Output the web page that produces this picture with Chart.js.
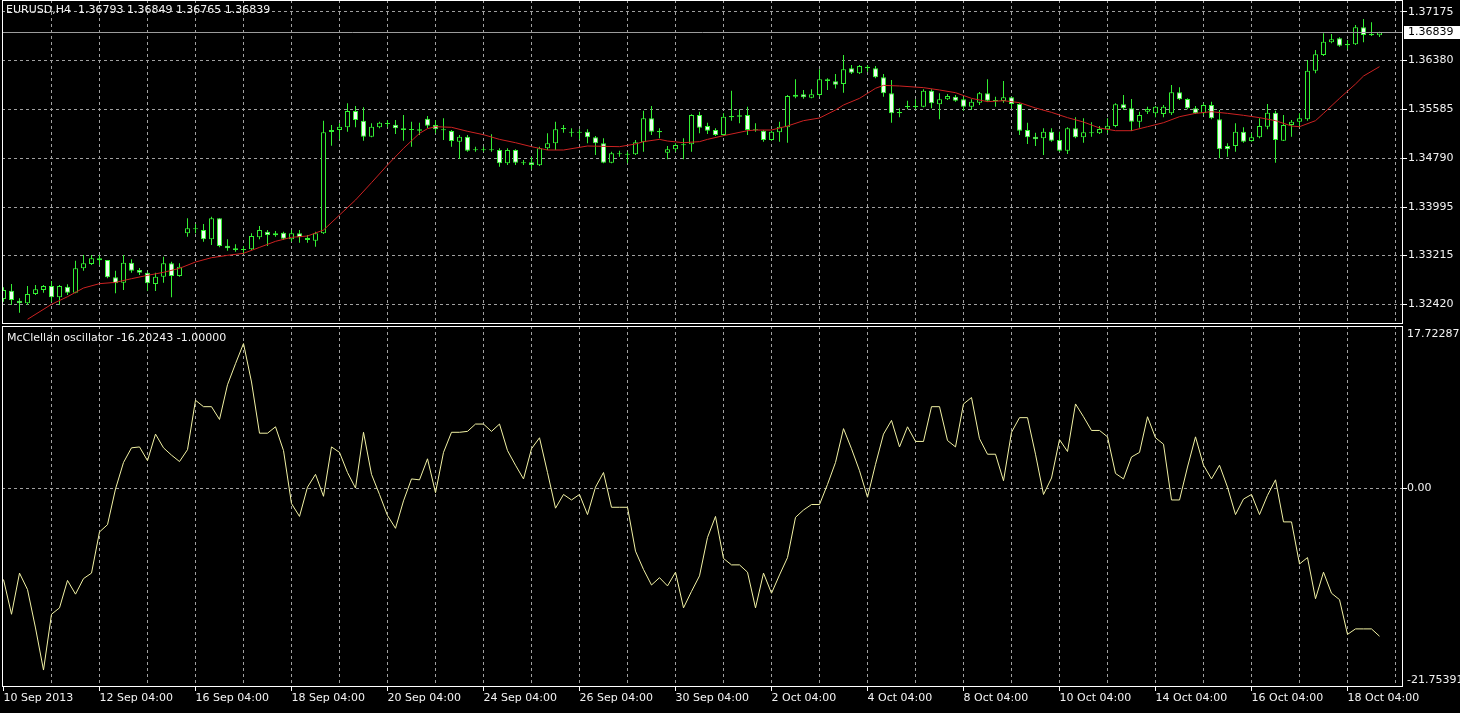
<!DOCTYPE html>
<html lang="en">
<head>
<meta charset="UTF-8">
<title>EURUSD H4 - McClellan oscillator</title>
<script src="https://cdn.jsdelivr.net/npm/chart.js@4"></script>
<style>
  html, body { margin: 0; padding: 0; background: #000; }
  #wrap { position: relative; width: 1460px; height: 713px; overflow: hidden; }
  canvas { position: absolute; left: 0; }
  #priceChart { top: 0; }
  #oscChart { top: 325px; }
</style>
</head>
<body>
<div id="wrap">
  <canvas id="priceChart" width="1460" height="325"></canvas>
  <canvas id="oscChart" width="1460" height="388"></canvas>
</div>
<script>
// ---- data (one value per H4 bar) ----
const symbol = 'EURUSD,H4';

const open = [
  1.32503, 1.32639, 1.32476, 1.32433, 1.32585, 1.32650, 1.32715, 1.32530, 1.32704, 1.32606,
  1.33002, 1.33072, 1.33165, 1.33137, 1.32856, 1.32769, 1.33094, 1.32975, 1.32931, 1.32747,
  1.32866, 1.33083, 1.32877, 1.33571, 1.33647, 1.33625, 1.33473, 1.33815, 1.33370, 1.33327,
  1.33311, 1.33311, 1.33506, 1.33598, 1.33571, 1.33582, 1.33473, 1.33571, 1.33495, 1.33452,
  1.33571, 1.35219, 1.35251, 1.35295, 1.35560, 1.35403, 1.35143, 1.35295, 1.35349, 1.35338,
  1.35278, 1.35262, 1.35262, 1.35435, 1.35333, 1.35262, 1.35235, 1.35062, 1.35143, 1.34937,
  1.34937, 1.34937, 1.34926, 1.34709, 1.34926, 1.34720, 1.34725, 1.34677, 1.34953, 1.35034,
  1.35262, 1.35208, 1.35224, 1.35224, 1.35132, 1.35034, 1.34720, 1.34872, 1.34861, 1.34856,
  1.35051, 1.35441, 1.35235, 1.34883, 1.34937, 1.35002, 1.35018, 1.35495, 1.35316, 1.35251,
  1.35170, 1.35457, 1.35468, 1.35495, 1.35262, 1.35240, 1.35089, 1.35213, 1.35295, 1.35793,
  1.35831, 1.35777, 1.35820, 1.36075, 1.36043, 1.35999, 1.36254, 1.36173, 1.36281, 1.36254,
  1.36108, 1.35847, 1.35544, 1.35625, 1.35625, 1.35631, 1.35891, 1.35669, 1.35750, 1.35793,
  1.35750, 1.35631, 1.35696, 1.35847, 1.35739, 1.35723, 1.35782, 1.35674, 1.35251, 1.35143,
  1.35116, 1.35224, 1.35089, 1.34915, 1.35278, 1.35132, 1.35197, 1.35197, 1.35262, 1.35316,
  1.35669, 1.35603, 1.35387, 1.35549, 1.35522, 1.35511, 1.35522, 1.35864, 1.35755, 1.35603,
  1.35522, 1.35658, 1.35425, 1.34991, 1.34991, 1.35224, 1.35072, 1.35132, 1.35305, 1.35533,
  1.35078, 1.35333, 1.35387, 1.35425, 1.36216, 1.36471, 1.36677, 1.36742, 1.36628, 1.36644,
  1.36921, 1.36812, 1.36793
];
const high = [
  1.32693, 1.32747, 1.32514, 1.32715, 1.32731, 1.32731, 1.32796, 1.32731, 1.32742, 1.33127,
  1.33219, 1.33219, 1.33219, 1.33137, 1.32964, 1.33219, 1.33148, 1.33007, 1.32948, 1.32931,
  1.33192, 1.33110, 1.33083, 1.33815, 1.33723, 1.33723, 1.33842, 1.33815, 1.33473, 1.33392,
  1.33365, 1.33571, 1.33690, 1.33625, 1.33609, 1.33598, 1.33625, 1.33625, 1.33544, 1.33598,
  1.35403, 1.35333, 1.35360, 1.35685, 1.35641, 1.35620, 1.35360, 1.35387, 1.35414, 1.35414,
  1.35495, 1.35387, 1.35371, 1.35479, 1.35414, 1.35441, 1.35251, 1.35170, 1.35170, 1.34980,
  1.34980, 1.35181, 1.34953, 1.34953, 1.34937, 1.34763, 1.34818, 1.34980, 1.35197, 1.35387,
  1.35333, 1.35278, 1.35262, 1.35262, 1.35154, 1.35116, 1.34899, 1.34915, 1.34899, 1.35089,
  1.35566, 1.35641, 1.35278, 1.34991, 1.35034, 1.35116, 1.35506, 1.35549, 1.35371, 1.35278,
  1.35522, 1.35891, 1.35587, 1.35631, 1.35360, 1.35251, 1.35240, 1.35387, 1.35820, 1.36075,
  1.35902, 1.35912, 1.36238, 1.36091, 1.36162, 1.36471, 1.36308, 1.36308, 1.36308, 1.36292,
  1.36162, 1.36064, 1.35603, 1.35728, 1.35750, 1.35912, 1.35912, 1.35847, 1.35837, 1.35820,
  1.35793, 1.35750, 1.35869, 1.36075, 1.35793, 1.36048, 1.35793, 1.35685, 1.35371, 1.35208,
  1.35278, 1.35278, 1.35224, 1.35295, 1.35457, 1.35441, 1.35376, 1.35316, 1.35441, 1.35685,
  1.35820, 1.35755, 1.35549, 1.35631, 1.35641, 1.35658, 1.35983, 1.35945, 1.35766, 1.35641,
  1.35685, 1.35712, 1.35576, 1.35034, 1.35360, 1.35295, 1.35197, 1.35441, 1.35674, 1.35566,
  1.35495, 1.35414, 1.35522, 1.36389, 1.36552, 1.36823, 1.36812, 1.36758, 1.36715, 1.36959,
  1.37056, 1.37002, 1.36849
];
const low = [
  1.32460, 1.32406, 1.32281, 1.32406, 1.32568, 1.32606, 1.32460, 1.32406, 1.32568, 1.32595,
  1.32964, 1.33056, 1.33056, 1.32839, 1.32595, 1.32650, 1.32931, 1.32894, 1.32639, 1.32633,
  1.32769, 1.32530, 1.32866, 1.33517, 1.33571, 1.33436, 1.33381, 1.33343, 1.33289, 1.33273,
  1.33235, 1.33300, 1.33473, 1.33365, 1.33517, 1.33463, 1.33436, 1.33419, 1.33419, 1.33354,
  1.33560, 1.34996, 1.35099, 1.35224, 1.35295, 1.35078, 1.35132, 1.35278, 1.35295, 1.35186,
  1.35078, 1.34980, 1.35170, 1.35278, 1.35197, 1.35089, 1.34980, 1.34780, 1.34899, 1.34899,
  1.34899, 1.34899, 1.34655, 1.34682, 1.34682, 1.34682, 1.34612, 1.34666, 1.34926, 1.34926,
  1.35208, 1.35143, 1.35099, 1.35034, 1.34845, 1.34709, 1.34709, 1.34818, 1.34709, 1.34845,
  1.34899, 1.35170, 1.35116, 1.34774, 1.34899, 1.34774, 1.34899, 1.35197, 1.35186, 1.35154,
  1.35159, 1.35403, 1.35360, 1.35170, 1.35224, 1.35062, 1.35078, 1.35062, 1.35045, 1.35766,
  1.35760, 1.35766, 1.35793, 1.35902, 1.35928, 1.35858, 1.36162, 1.36162, 1.36200, 1.36091,
  1.35793, 1.35371, 1.35457, 1.35587, 1.35587, 1.35620, 1.35603, 1.35425, 1.35739, 1.35712,
  1.35566, 1.35576, 1.35658, 1.35712, 1.35631, 1.35696, 1.35603, 1.35170, 1.35024, 1.34991,
  1.34845, 1.35062, 1.34899, 1.34861, 1.35116, 1.35045, 1.35143, 1.35186, 1.35197, 1.35295,
  1.35576, 1.35235, 1.35289, 1.35511, 1.35457, 1.35457, 1.35495, 1.35739, 1.35587, 1.35511,
  1.35495, 1.35425, 1.34791, 1.34818, 1.34899, 1.35045, 1.35062, 1.35116, 1.35262, 1.34720,
  1.35072, 1.35143, 1.35295, 1.35403, 1.36173, 1.36454, 1.36660, 1.36606, 1.36563, 1.36633,
  1.36677, 1.36780, 1.36765
];
const close = [
  1.32650, 1.32487, 1.32433, 1.32585, 1.32660, 1.32715, 1.32530, 1.32715, 1.32606, 1.33002,
  1.33083, 1.33165, 1.33132, 1.32856, 1.32758, 1.33094, 1.32964, 1.32931, 1.32758, 1.32866,
  1.33083, 1.32877, 1.33029, 1.33652, 1.33636, 1.33473, 1.33815, 1.33365, 1.33327, 1.33300,
  1.33300, 1.33528, 1.33625, 1.33544, 1.33538, 1.33484, 1.33571, 1.33506, 1.33463, 1.33571,
  1.35213, 1.35251, 1.35305, 1.35560, 1.35414, 1.35143, 1.35305, 1.35371, 1.35360, 1.35278,
  1.35251, 1.35251, 1.35240, 1.35322, 1.35262, 1.35246, 1.35072, 1.35143, 1.34915, 1.34921,
  1.34921, 1.34921, 1.34709, 1.34926, 1.34720, 1.34709, 1.34682, 1.34953, 1.35034, 1.35262,
  1.35284, 1.35224, 1.35208, 1.35132, 1.35034, 1.34720, 1.34872, 1.34856, 1.34850, 1.35051,
  1.35441, 1.35224, 1.35213, 1.34937, 1.35007, 1.35018, 1.35495, 1.35289, 1.35240, 1.35170,
  1.35468, 1.35479, 1.35490, 1.35251, 1.35246, 1.35089, 1.35224, 1.35305, 1.35804, 1.35826,
  1.35782, 1.35831, 1.36075, 1.36048, 1.35988, 1.36238, 1.36184, 1.36292, 1.36254, 1.36108,
  1.35847, 1.35522, 1.35522, 1.35641, 1.35641, 1.35891, 1.35685, 1.35750, 1.35804, 1.35728,
  1.35631, 1.35712, 1.35847, 1.35728, 1.35723, 1.35782, 1.35674, 1.35240, 1.35132, 1.35099,
  1.35224, 1.35078, 1.34915, 1.35278, 1.35132, 1.35213, 1.35213, 1.35267, 1.35322, 1.35669,
  1.35603, 1.35387, 1.35495, 1.35593, 1.35631, 1.35631, 1.35864, 1.35750, 1.35603, 1.35522,
  1.35658, 1.35441, 1.34937, 1.34937, 1.35224, 1.35062, 1.35132, 1.35316, 1.35533, 1.35089,
  1.35333, 1.35387, 1.35441, 1.36216, 1.36482, 1.36688, 1.36725, 1.36622, 1.36649, 1.36921,
  1.36796, 1.36790, 1.36839
];

// moving average (red), sampled along the line
const maBars = [3, 6, 8, 10, 12, 14, 16, 18, 20, 22, 24, 26, 28, 30, 32, 34, 36, 38, 40, 42,
  44, 46, 48, 50, 52, 53, 54, 56, 58, 60, 62, 64, 66, 68, 70, 73, 77, 79, 80, 82,
  83, 85, 87, 88, 90, 93, 94, 96, 98, 100, 102, 104, 105, 107, 108, 109, 110, 112, 115, 117,
  119, 121, 123, 125, 127, 129, 131, 133, 135, 137, 139, 141, 143, 145, 147, 149, 151, 153, 155, 157,
  159, 161, 162, 164, 165, 167, 169, 170, 172];
const maValues = [1.32173, 1.32417, 1.32541, 1.32682, 1.32753, 1.32774, 1.32834, 1.32888, 1.32937, 1.33002,
  1.33105, 1.33175, 1.33213, 1.33246, 1.33343, 1.33441, 1.33506, 1.33528, 1.33625, 1.33869,
  1.34113, 1.34395, 1.34682, 1.34953, 1.35197, 1.35273, 1.35305, 1.35295, 1.35230, 1.35175,
  1.35099, 1.35045, 1.34980, 1.34926, 1.34926, 1.34991, 1.34980, 1.35024, 1.35062, 1.35099,
  1.35072, 1.35045, 1.35062, 1.35099, 1.35159, 1.35240, 1.35251, 1.35251, 1.35316, 1.35403,
  1.35446, 1.35576, 1.35658, 1.35766, 1.35847, 1.35929, 1.35977, 1.35967, 1.35940, 1.35902,
  1.35858, 1.35766, 1.35712, 1.35728, 1.35696, 1.35609, 1.35538, 1.35452, 1.35381, 1.35284,
  1.35240, 1.35240, 1.35305, 1.35370, 1.35468, 1.35522, 1.35549, 1.35522, 1.35490, 1.35452,
  1.35403, 1.35316, 1.35305, 1.35403, 1.35522, 1.35766, 1.35999, 1.36129, 1.36281];

// McClellan oscillator, one value per bar
const oscTitle = 'McClellan oscillator';
const oscSignal = -1.0;
const osc = [
  -10.0, -13.8, -9.3, -11.1, -15.3, -19.9, -13.8, -13.1, -10.1, -11.6,
  -9.9, -9.3, -4.8, -4.0, -0.1, 2.8, 4.4, 4.5, 3.0, 5.9,
  4.4, 3.6, 2.9, 4.2, 9.6, 8.9, 8.9, 7.5, 11.3, 13.6,
  15.8, 11.6, 6.0, 6.0, 6.7, 4.1, -1.7, -3.1, 0.1, 1.5,
  -0.9, 4.5, 3.9, 1.7, 0.0, 6.1, 1.5, -0.7, -3.0, -4.4,
  -1.4, 1.0, 0.9, 3.2, -0.5, 3.9, 6.1, 6.1, 6.2, 7.0,
  7.0, 6.2, 7.0, 4.1, 2.5, 1.0, 4.3, 5.5, 1.7, -2.2,
  -0.7, -1.3, -0.7, -2.9, 0.1, 1.7, -2.1, -2.1, -2.1, -6.9,
  -8.9, -10.6, -9.8, -10.7, -9.2, -13.1, -11.3, -9.6, -5.4, -3.1,
  -7.7, -8.4, -8.4, -9.2, -13.1, -9.3, -11.5, -9.5, -7.6, -3.2,
  -2.4, -1.8, -1.8, 0.4, 2.8, 6.5, 4.3, 1.9, -1.0, 2.6,
  5.9, 7.4, 4.5, 6.7, 5.1, 5.1, 8.9, 8.9, 5.2, 4.5,
  9.2, 9.9, 5.4, 3.7, 3.7, 0.8, 6.1, 7.7, 7.7, 3.7,
  -0.7, 1.1, 5.3, 4.0, 9.2, 7.8, 6.3, 6.3, 5.6, 1.6,
  1.0, 3.4, 3.9, 7.8, 5.5, 4.8, -1.3, -1.3, 2.3, 5.6,
  2.5, 1.0, 2.5, 0.1, -2.9, -1.2, -0.7, -2.9, -0.8, 0.9,
  -3.7, -3.7, -8.3, -7.6, -12.1, -9.2, -11.5, -12.2, -16.0, -15.4,
  -15.4, -15.4, -16.20243
];

// axis labels
const priceTicks = [1.37175, 1.36380, 1.35585, 1.34790, 1.33995, 1.33215, 1.32420];
const oscTicks = [17.72287, 0, -21.75391];
const timeLabels = ['10 Sep 2013', '12 Sep 04:00', '16 Sep 04:00', '18 Sep 04:00', '20 Sep 04:00',
  '24 Sep 04:00', '26 Sep 04:00', '30 Sep 04:00', '2 Oct 04:00', '4 Oct 04:00',
  '8 Oct 04:00', '10 Oct 04:00', '14 Oct 04:00', '16 Oct 04:00', '18 Oct 04:00'];
const labelEvery = 12;   // bars between time labels
const gridEvery = 6;     // bars between vertical grid lines

// ---- look ----
const FONT_FAMILY = '"DejaVu Sans", sans-serif';
const FONT = '11px ' + FONT_FAMILY;
const TEXT = '#f2f2f2';
const GRID = '#a0a0a0';
const GREEN = '#33ee33';
const BEAR_FILL = '#f0fff0';
const BULL_FILL = '#000000';
const MA_RED = '#cc2222';
const OSC_YELLOW = '#f2f2a4';
const AXIS_W = 57;

const xMin = -0.1875, xMax = 174.9375;   // 8px per bar, right margin of ~3 bars
const priceMin = 1.32097, priceMax = 1.37365;

const bars = close.map((_, i) => i);
const last = close.length - 1;
const gridBars = [];
for (let b = 0; b <= xMax; b += gridEvery) gridBars.push(b);

Chart.defaults.font.family = FONT_FAMILY;
Chart.defaults.font.size = 11;
Chart.defaults.color = TEXT;

function drawFrame(ctx, a) {
  ctx.save();
  ctx.strokeStyle = '#ffffff';
  ctx.lineWidth = 1;
  ctx.strokeRect(a.left + 0.5, a.top + 0.5, a.right - a.left - 1, a.bottom - a.top - 1);
  ctx.restore();
}

const priceOverlay = {
  id: 'priceOverlay',
  afterDatasetsDraw(chart) {
    // bid line at the last close
    const ctx = chart.ctx, a = chart.chartArea;
    const y = Math.round(chart.scales.y.getPixelForValue(close[last])) + 0.5;
    ctx.save();
    ctx.strokeStyle = '#9c9c9c';
    ctx.lineWidth = 1;
    ctx.beginPath();
    ctx.moveTo(a.left, y);
    ctx.lineTo(a.right, y);
    ctx.stroke();
    ctx.restore();
  },
  afterDraw(chart) {
    const ctx = chart.ctx, a = chart.chartArea;
    drawFrame(ctx, a);
    const y = Math.round(chart.scales.y.getPixelForValue(close[last]));
    ctx.save();
    ctx.fillStyle = '#ffffff';
    ctx.fillRect(a.right + 1, y - 6, chart.width - a.right - 1, 13);
    ctx.fillStyle = '#000000';
    ctx.font = FONT;
    ctx.textBaseline = 'middle';
    ctx.fillText(close[last].toFixed(5), a.right + 5, y + 0.5);
    ctx.fillStyle = TEXT;
    const head = symbol + '  ' + [open[last], high[last], low[last], close[last]].map(v => v.toFixed(5)).join(' ');
    ctx.fillText(head, 6, 10);
    ctx.restore();
  }
};

const oscOverlay = {
  id: 'oscOverlay',
  afterDraw(chart) {
    const ctx = chart.ctx, a = chart.chartArea, ys = chart.scales.y;
    drawFrame(ctx, a);
    ctx.save();
    ctx.font = FONT;
    ctx.fillStyle = TEXT;
    ctx.textBaseline = 'middle';
    ctx.fillText(oscTitle + ' ' + osc[last].toFixed(5) + ' ' + oscSignal.toFixed(5), 7, 13);
    // MT4 puts the window max at the top edge and the min at the bottom edge
    oscTicks.forEach(v => {
      const txt = v === 0 ? v.toFixed(2) : v.toFixed(5);
      let y = ys.getPixelForValue(v);
      if (v === ys.max) { ctx.textBaseline = 'top'; y += 3; }
      else if (v === ys.min) { ctx.textBaseline = 'bottom'; y -= 1; }
      else ctx.textBaseline = 'middle';
      ctx.fillText(txt, a.right + 4, y);
    });
    ctx.restore();
  }
};

const xGridColor = c => (c.tick && c.tick.value === 0) ? 'rgba(0,0,0,0)' : GRID;

new Chart(document.getElementById('priceChart'), {
  type: 'bar',
  data: {
    datasets: [
      {
        label: 'wick',
        data: bars.map(i => ({ x: i, y: [low[i], high[i]] })),
        backgroundColor: GREEN,
        barThickness: 1,
        inflateAmount: 0,
        grouped: false,
        order: 3
      },
      {
        label: 'body',
        data: bars.map(i => ({ x: i, y: [open[i], close[i]] })),
        backgroundColor: bars.map(i => close[i] >= open[i] ? BULL_FILL : BEAR_FILL),
        borderColor: GREEN,
        borderWidth: 1,
        borderSkipped: false,
        barThickness: 5,
        minBarLength: 1,
        inflateAmount: 0,
        grouped: false,
        order: 2
      },
      {
        type: 'line',
        label: 'MA',
        data: maBars.map((b, k) => ({ x: b, y: maValues[k] })),
        borderColor: MA_RED,
        borderWidth: 1,
        pointRadius: 0,
        tension: 0,
        order: 1
      }
    ]
  },
  options: {
    responsive: false,
    animation: false,
    layout: { padding: { left: 2, right: 0, top: 0, bottom: 1 }, autoPadding: false },
    plugins: { legend: { display: false }, tooltip: { enabled: false } },
    scales: {
      x: {
        type: 'linear', min: xMin, max: xMax, offset: false,
        afterBuildTicks: s => { s.ticks = gridBars.map(v => ({ value: v })); },
        afterFit: s => { s.height = 0; s.paddingLeft = 0; s.paddingRight = 0; },
        ticks: { display: false },
        grid: { color: xGridColor, drawTicks: false, offset: false },
        border: { display: false, dash: [3, 3] }
      },
      y: {
        position: 'right', min: priceMin, max: priceMax,
        afterBuildTicks: s => { s.ticks = priceTicks.map(v => ({ value: v })); },
        afterFit: s => { s.width = AXIS_W; s.paddingTop = 0; s.paddingBottom = 0; },
        ticks: { color: TEXT, padding: 1, callback: v => v.toFixed(5) },
        grid: { color: GRID, tickLength: 4, tickColor: '#ffffff', tickBorderDash: [] },
        border: { display: false, dash: [3, 3] }
      }
    }
  },
  plugins: [priceOverlay]
});

new Chart(document.getElementById('oscChart'), {
  type: 'line',
  data: {
    datasets: [{
      label: oscTitle,
      data: bars.map(i => ({ x: i, y: osc[i] })),
      borderColor: OSC_YELLOW,
      borderWidth: 1,
      pointRadius: 0,
      tension: 0
    }]
  },
  options: {
    responsive: false,
    animation: false,
    layout: { padding: { left: 2, right: 0, top: 1, bottom: 0 }, autoPadding: false },
    plugins: { legend: { display: false }, tooltip: { enabled: false } },
    scales: {
      x: {
        type: 'linear', min: xMin, max: xMax, offset: false,
        afterBuildTicks: s => { s.ticks = gridBars.map(v => ({ value: v })); },
        afterFit: s => { s.height = 26; s.paddingLeft = 0; s.paddingRight = 0; },
        ticks: {
          color: TEXT, padding: 1, align: 'start', autoSkip: false, maxRotation: 0, minRotation: 0,
          callback: v => (v % labelEvery === 0) ? (timeLabels[v / labelEvery] || '') : ''
        },
        grid: {
          color: xGridColor, offset: false, tickLength: 4, tickBorderDash: [],
          tickColor: c => (c.tick && c.tick.value % labelEvery === 0) ? '#ffffff' : 'rgba(0,0,0,0)'
        },
        border: { display: false, dash: [3, 3] }
      },
      y: {
        position: 'right', min: oscTicks[2], max: oscTicks[0],
        afterBuildTicks: s => { s.ticks = oscTicks.map(v => ({ value: v })); },
        afterFit: s => { s.width = AXIS_W; s.paddingTop = 0; s.paddingBottom = 0; },
        ticks: { display: false },
        grid: {
          color: c => (c.tick && c.tick.value === 0) ? GRID : 'rgba(0,0,0,0)',
          tickLength: 4, tickBorderDash: [],
          tickColor: c => (c.tick && c.tick.value === 0) ? '#ffffff' : 'rgba(0,0,0,0)'
        },
        border: { display: false, dash: [3, 3] }
      }
    }
  },
  plugins: [oscOverlay]
});
</script>
</body>
</html>
